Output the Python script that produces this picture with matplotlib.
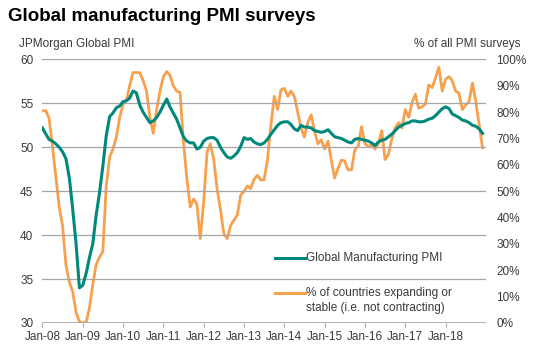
import matplotlib
matplotlib.use("Agg")
import matplotlib.pyplot as plt
import numpy as np
import pandas as pd
from matplotlib.lines import Line2D

plt.rcParams['font.family'] = ['Liberation Sans', 'DejaVu Sans']

dates = pd.date_range("2008-01-01", periods=132, freq="MS")

pmi = [52.2, 51.5, 50.9, 50.7, 50.4, 50.0, 49.5, 48.7, 46.5, 43.0, 39.0, 34.0,
       34.3, 35.7, 37.4, 39.0, 42.2, 44.8, 47.8, 51.3, 53.5, 53.9, 54.5, 54.7,
       55.2, 55.3, 55.6, 56.4, 56.2, 54.8, 54.0, 53.4, 52.8, 53.0, 53.4, 54.0,
       54.8, 55.5, 54.6, 53.9, 53.2, 52.2, 51.2, 50.7, 50.5, 50.5, 49.8, 50.0,
       50.7, 51.0, 51.1, 51.1, 50.8, 50.0, 49.4, 48.9, 48.75, 49.0, 49.4, 50.1,
       51.1, 50.9, 51.0, 50.6, 50.4, 50.3, 50.5, 50.9, 51.5, 52.0, 52.5, 52.8,
       52.9, 52.9, 52.6, 52.1, 51.9, 52.5, 52.3, 52.3, 52.2, 51.9, 51.8, 51.7,
       51.8, 52.0, 51.6, 51.2, 51.1, 51.0, 50.8, 50.6, 50.5, 50.9, 51.0, 50.9,
       50.8, 50.7, 50.5, 50.2, 50.6, 50.8, 50.9, 51.2, 51.5, 51.9, 52.3, 52.5,
       52.7, 52.8, 53.0, 53.0, 52.9, 52.9, 53.0, 53.2, 53.3, 53.6, 54.0, 54.4,
       54.6, 54.4, 53.8, 53.6, 53.4, 53.1, 53.0, 52.8, 52.5, 52.4, 52.1, 51.6]

pct = [80.5, 80.5, 77.7, 67, 55.5, 44, 37, 22, 15.5, 12, 4, 0.5,
       0, 0.5, 5.5, 14.5, 22, 25, 27, 52, 63, 66, 70.5, 78,
       83, 84.5, 90, 95, 95, 95, 92, 88, 78, 72, 81, 88,
       93.5, 95.4, 94, 90, 88, 87.5, 69, 55, 44, 47, 45, 32,
       46, 65, 68, 62, 51, 43, 34, 32, 37, 39, 41, 48.5,
       50, 52, 51, 54.5, 56, 54.3, 54.3, 62, 75, 86, 81, 88.5,
       89, 86, 88, 86, 80, 74, 70.5, 76, 79, 72.8, 68, 69.5,
       66, 69, 62, 55, 58.5, 61.8, 61.5, 58.1, 58.1, 65.7, 67, 74.5,
       68, 67, 67.5, 66, 68, 73, 62, 64, 70, 74, 76, 74,
       81, 78, 83.5, 86.8, 81.5, 82, 83, 90.3, 89.3, 93, 97, 88,
       92.5, 93.5, 92, 88, 87.2, 81, 82.7, 84, 91, 84, 75, 66.5]

left_ticks = [30, 35, 40, 45, 50, 55, 60]
right_ticks = [0, 10, 20, 30, 40, 50, 60, 70, 80, 90, 100]
year_ticks = pd.date_range("2008-01-01", "2018-01-01", freq="YS")
year_labels = [d.strftime("Jan-%y") for d in year_ticks]

GREEN = "#00897B"
ORANGE = "#F7A04E"
GRID = "#A6A6A6"
TXT = "#3A3A3A"

fig = plt.figure(figsize=(5.46, 3.58), dpi=100)
ax = fig.add_axes([0.0777, 0.0978, 0.8123, 0.7362])
ax2 = ax.twinx()

ax.set_ylim(30, 60)
ax2.set_ylim(0, 100)
ax.set_xlim(pd.Timestamp("2008-01-01"), pd.Timestamp("2019-01-01"))

ax.set_yticks(left_ticks)
ax2.set_yticks(right_ticks)
ax2.set_yticklabels([f"{v}%" for v in right_ticks])
ax.set_xticks(year_ticks)
ax.set_xticklabels(year_labels)

ax.grid(axis='y', color=GRID, linewidth=0.9)
ax.set_axisbelow(True)
for a in (ax, ax2):
    for s in ['top', 'left', 'right', 'bottom']:
        a.spines[s].set_visible(False)
ax.axhline(30, color=GRID, linewidth=1.2, zorder=1)

ax.tick_params(axis='y', length=0, pad=6.5, labelsize=8.5, labelcolor=TXT)
ax2.tick_params(axis='y', length=0, pad=7.6, labelsize=8.5, labelcolor=TXT)
ax.tick_params(axis='x', length=3, width=0.8, color=GRID, pad=3, labelsize=8.5, labelcolor=TXT)

ax2.plot(dates, pct, color=ORANGE, linewidth=2.0, zorder=3)
ax.plot(dates, pmi, color=GREEN, linewidth=2.2, zorder=4)
ax.set_zorder(ax2.get_zorder() + 1)
ax.patch.set_visible(False)

# legend drawn manually
ax.add_line(Line2D([0.525, 0.593], [0.245, 0.245], transform=ax.transAxes,
                   color=GREEN, linewidth=2.2))
ax.text(0.595, 0.245, "Global Manufacturing PMI", transform=ax.transAxes,
        fontsize=8.5, color=TXT, va='center', ha='left')
ax.add_line(Line2D([0.525, 0.593], [0.114, 0.114], transform=ax.transAxes,
                   color=ORANGE, linewidth=2.2))
ax.text(0.595, 0.114, "% of countries expanding or", transform=ax.transAxes,
        fontsize=8.5, color=TXT, va='center', ha='left')
ax.text(0.595, 0.057, "stable (i.e. not contracting)", transform=ax.transAxes,
        fontsize=8.5, color=TXT, va='center', ha='left')

fig.text(0.015, 0.955, "Global manufacturing PMI surveys", fontsize=13.5,
         fontweight='bold', color='black', ha='left', va='center')
fig.text(0.034, 0.878, "JPMorgan Global PMI", fontsize=8.5, color=TXT,
         ha='left', va='center')
fig.text(0.953, 0.878, "% of all PMI surveys", fontsize=8.5, color=TXT,
         ha='right', va='center')

fig.savefig("out.png", dpi=100)
